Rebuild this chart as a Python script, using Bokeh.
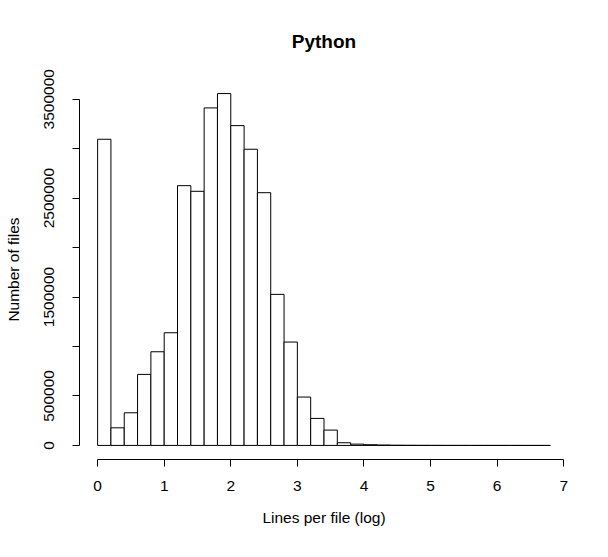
from bokeh.plotting import figure
from bokeh.models import Range1d, FixedTicker, ColumnDataSource
from bokeh.embed import file_html
from bokeh.resources import INLINE

# Histogram data (bin width 0.2, log lines per file)
bin_left = [0.0, 0.2, 0.4, 0.6, 0.8, 1.0, 1.2, 1.4, 1.6, 1.8, 2.0, 2.2, 2.4, 2.6, 2.8,
            3.0, 3.2, 3.4, 3.6, 3.8, 4.0, 4.2, 4.4, 4.6, 4.8, 5.0, 5.2, 5.4, 5.6, 5.8,
            6.0, 6.2, 6.4, 6.6]
bin_right = [0.2, 0.4, 0.6, 0.8, 1.0, 1.2, 1.4, 1.6, 1.8, 2.0, 2.2, 2.4, 2.6, 2.8, 3.0,
             3.2, 3.4, 3.6, 3.8, 4.0, 4.2, 4.4, 4.6, 4.8, 5.0, 5.2, 5.4, 5.6, 5.8, 6.0,
             6.2, 6.4, 6.6, 6.8]
counts = [3095000, 178000, 330000, 718000, 947000, 1139000, 2626000, 2569000, 3412000,
          3557000, 3233000, 2994000, 2555000, 1527000, 1045000, 489000, 273000, 155000,
          27000, 13000, 7000, 4000, 2000, 1200, 800, 500, 300, 200, 150, 100, 80, 50, 30, 10]
bottoms = [0] * len(counts)

x_ticks = [0, 1, 2, 3, 4, 5, 6, 7]
y_ticks = [0, 500000, 1000000, 1500000, 2000000, 2500000, 3000000, 3500000]
y_hidden = [1000000, 2000000, 3000000]

title_text = "Python"
x_label = "Lines per file (log)"
y_label = "Number of files"

FONT = "Liberation Sans"
FS = "15.5px"

xmin, xmax = min(bin_left), max(bin_right)
xpad = 0.04 * (xmax - xmin)
ymax = max(counts)
ypad = 0.04 * ymax

p = figure(width=608, height=557, output_backend="svg", toolbar_location=None,
           x_range=Range1d(xmin - xpad, xmax + xpad),
           y_range=Range1d(-ypad, ymax + ypad),
           min_border_left=79, min_border_right=40, min_border_top=79,
           min_border_bottom=98)
p.outline_line_color = None
p.grid.visible = False
p.background_fill_color = "white"
p.border_fill_color = "white"

src = ColumnDataSource(dict(left=bin_left, right=bin_right, top=counts, bottom=bottoms))
p.quad(left="left", right="right", top="top", bottom="bottom", source=src,
       fill_color="white", line_color="black", line_width=1)

p.title.text = title_text
p.title.align = "center"
p.title.text_font = FONT
p.title.text_font_size = "19px"
p.title.text_font_style = "bold"
p.title.text_color = "black"
p.title.text_line_height = 1.0
p.title.standoff = 55

for ax in (p.xaxis[0], p.yaxis[0]):
    ax.axis_line_color = "black"
    ax.major_tick_line_color = "black"
    ax.major_tick_in = 0
    ax.major_tick_out = 7
    ax.minor_tick_line_color = None
    ax.major_label_text_font = FONT
    ax.major_label_text_font_size = FS
    ax.major_label_text_color = "black"
    ax.axis_label_text_font = FONT
    ax.axis_label_text_font_size = FS
    ax.axis_label_text_font_style = "normal"
    ax.axis_label_text_color = "black"

xa = p.xaxis[0]
xa.ticker = FixedTicker(ticks=x_ticks)
xa.bounds = (min(x_ticks), max(x_ticks))
xa.axis_label = x_label
xa.major_label_standoff = 14
xa.axis_label_standoff = 15

ya = p.yaxis[0]
ya.ticker = FixedTicker(ticks=y_ticks)
ya.bounds = (min(y_ticks), max(y_ticks))
ya.axis_label = y_label
ya.major_label_orientation = "vertical"
ya.major_label_overrides = {t: ("" if t in y_hidden else str(t)) for t in y_ticks}
ya.major_label_standoff = 18
ya.axis_label_standoff = 20

open("out.html", "w").write(file_html(p, INLINE))
